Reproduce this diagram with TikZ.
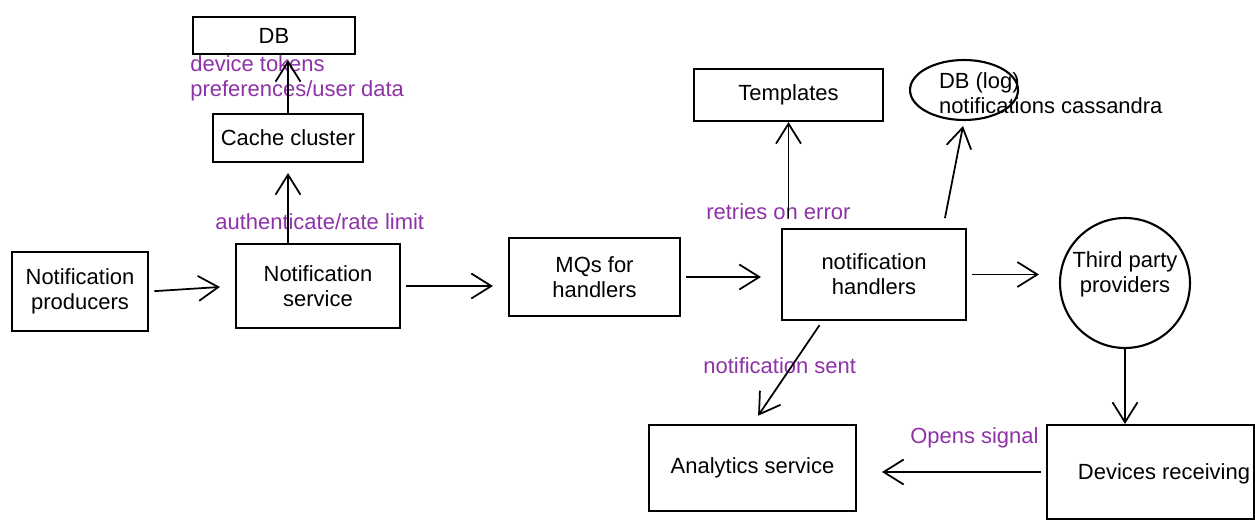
\documentclass[tikz,border=0pt]{standalone}
\usepackage{fontspec}
\setmainfont{Liberation Sans}
\usetikzlibrary{arrows.meta,shapes.geometric}
\definecolor{notepurple}{RGB}{142,50,168}
\begin{document}
\begin{tikzpicture}[x=0.02cm, y=-0.02cm,
    box/.style={draw, line width=1.2pt, align=center, inner sep=0pt,
        font=\fontsize{12.5}{14.2}\selectfont},
    flow/.style={line width=1pt, -{Straight Barb[length=4mm,width=5mm]}},
    note/.style={text=notepurple, inner sep=0pt, align=left,
        font=\fontsize{12.5}{14.2}\selectfont}]
    \useasboundingbox (0,0) rectangle (1255,528);

    % boxes
    \node[box, minimum width=3.24cm, minimum height=0.74cm] (db) at (274,35.5) {DB};
    \node[box, minimum width=3.0cm, minimum height=0.96cm] (cache) at (288,138) {Cache cluster};
    \node[box, minimum width=2.72cm, minimum height=1.58cm] (prod) at (80,291.5) {Notification\\producers};
    \node[box, minimum width=3.28cm, minimum height=1.68cm] (svc) at (318,286) {Notification\\service};
    \node[box, minimum width=3.42cm, minimum height=1.56cm] (mq) at (594.5,277) {MQs for\\handlers};
    \node[box, minimum width=3.68cm, minimum height=1.82cm] (hand) at (874,274.5) {notification\\handlers};
    \node[box, minimum width=3.78cm, minimum height=1.04cm] (tmpl) at (788.5,95) {Templates};
    \node[box, ellipse, minimum width=2.16cm, minimum height=1.2cm] (dblog) at (964,90) {};
    \node[box, anchor=west, align=left, draw=none] (dblogtxt) at (938,93) {DB (log)\\notifications cassandra};
    \node[box, circle, minimum size=2.6cm] (third) at (1125,283) {};
    \node[box, draw=none] (thirdtxt) at (1125,274) {Third party\\providers};
    \node[box, minimum width=4.14cm, minimum height=1.88cm] (dev) at (1150.5,472) {};
    \node[box, draw=none] (devtxt) at (1164,474) {Devices receiving};
    \node[box, minimum width=4.14cm, minimum height=1.72cm] (ana) at (752.5,468) {Analytics service};

    % notes
    \node[note, anchor=north west] (tokens) at (190,55) {device tokens\\preferences/user data};
    \node[note, anchor=west] (auth) at (215,222) {authenticate/rate limit};
    \node[note, anchor=west] (retry) at (706,212) {retries on error};
    \node[note, anchor=west] (sent) at (703,366) {notification sent};
    \node[note, anchor=west] (opens) at (910,438) {Opens signal};

    % connectors
    \draw[flow, shorten <=3pt, shorten >=3mm] (prod.east) -- (svc.west);
    \draw[flow, shorten >=2mm] (svc.north -| cache.south) -- (cache.south);
    \draw[flow, shorten >=1mm] (cache.north) -- (db.south -| cache.north);
    \draw[flow, shorten <=3pt, shorten >=3mm] (svc.east) -- (svc.east -| mq.west);
    \draw[flow, shorten <=3pt, shorten >=4mm] (mq.east) -- (mq.east -| hand.west);
    \draw[flow, shorten <=2mm] (hand.north -| tmpl.south) -- (tmpl.south);
    \draw[flow, shorten <=2mm, shorten >=1mm] (hand.34) -- (dblog.south);
    \draw[flow, shorten <=3pt, shorten >=4mm] (hand.east) -- (hand.east -| third.west);
    \draw[flow] (third.south) -- (dev.north -| third.south);
    \draw[flow, shorten <=3pt, shorten >=5mm] (dev.west) -- (dev.west -| ana.east);
    \draw[flow, shorten <=1mm, shorten >=2mm] (hand.-138) -- (ana.north);
\end{tikzpicture}
\end{document}
